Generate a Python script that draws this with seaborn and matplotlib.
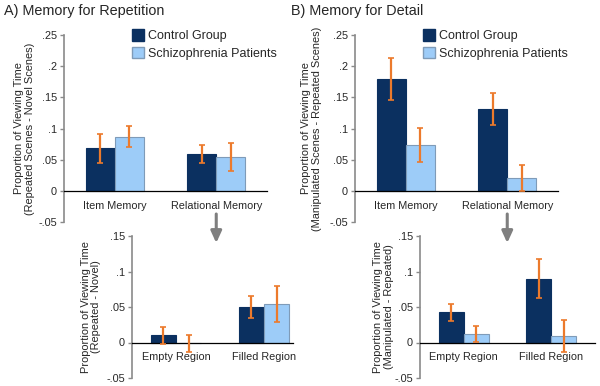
import pandas as pd
import matplotlib
matplotlib.use("Agg")
import matplotlib.pyplot as plt
import seaborn as sns
from matplotlib.patches import Patch

# ---- data ----
groups = ["Control Group", "Schizophrenia Patients"]

top_cats = ["Item Memory", "Relational Memory"]
bottom_cats = ["Empty Region", "Filled Region"]

# A) repetition (top) and its relational breakdown (bottom)
rep_ctrl = [0.068, 0.059]
rep_ctrl_se = [0.023, 0.0145]
rep_scz = [0.087, 0.054]
rep_scz_se = [0.017, 0.022]

rep_reg_ctrl = [0.010, 0.050]
rep_reg_ctrl_se = [0.0115, 0.0153]
rep_reg_scz = [-0.001, 0.054]
rep_reg_scz_se = [0.012, 0.0255]

# B) detail (top) and its relational breakdown (bottom)
det_ctrl = [0.180, 0.131]
det_ctrl_se = [0.0335, 0.026]
det_scz = [0.073, 0.020]
det_scz_se = [0.0275, 0.021]

det_reg_ctrl = [0.0425, 0.090]
det_reg_ctrl_se = [0.012, 0.0275]
det_reg_scz = [0.012, 0.009]
det_reg_scz_se = [0.011, 0.022]

top_ticks = [-0.05, 0, 0.05, 0.1, 0.15, 0.2, 0.25]
top_ticklabels = ["-.05", "0", ".05", ".1", ".15", ".2", ".25"]
bottom_ticks = [-0.05, 0, 0.05, 0.1, 0.15]
bottom_ticklabels = ["-.05", "0", ".05", ".1", ".15"]

# ---- style ----
sns.set_style("white")
plt.rcParams["font.family"] = ["Liberation Sans", "DejaVu Sans"]

navy = "#0b3060"
light = "#9dccf8"
orange = "#ec7a2c"
spine_gray = "#8a8a8a"

fig = plt.figure(figsize=(6, 3.86), dpi=100)
W, H = 600, 386


def add_ax(x0, x1, y0, y1):
    ax = fig.add_axes([x0 / W, 1 - y1 / H, (x1 - x0) / W, (y1 - y0) / H])
    ax.set_facecolor("none")
    return ax


def panel(ax, cats, ctrl, ctrl_se, scz, scz_se, ticks, ticklabels, ylab, xright, labx):
    df = pd.DataFrame({
        "cond": cats * 2,
        "group": [groups[0]] * 2 + [groups[1]] * 2,
        "value": ctrl + scz,
    })
    sns.barplot(data=df, x="cond", y="value", hue="group", order=cats,
                hue_order=groups, palette=[navy, light], width=0.57,
                errorbar=None, legend=False, ax=ax, saturation=1)
    for cont, se, ec in zip(ax.containers, [ctrl_se, scz_se], [navy, "#7f9bb8"]):
        xs, ys = [], []
        for bar in cont:
            bar.set_edgecolor(ec)
            bar.set_linewidth(0.8)
            xs.append(bar.get_x() + bar.get_width() / 2)
            ys.append(bar.get_height())
        ax.errorbar(xs, ys, yerr=se, fmt="none", ecolor=orange,
                    elinewidth=1.6, capsize=2, capthick=1.2, zorder=5)

    ax.set_ylim(ticks[0], ticks[-1])
    ax.set_xlim(-0.5, xright)
    ax.set_yticks(ticks)
    ax.set_yticklabels(ticklabels, fontsize=7.8)
    ax.set_xlabel("")
    ax.set_ylabel(ylab, fontsize=7.9, linespacing=1.05)
    ax.yaxis.set_label_coords(labx, 0.5)

    for s in ["top", "right"]:
        ax.spines[s].set_visible(False)
    ax.spines["left"].set_color(spine_gray)
    ax.spines["left"].set_linewidth(1.2)
    ax.spines["bottom"].set_position(("data", 0))
    ax.spines["bottom"].set_color("black")
    ax.spines["bottom"].set_linewidth(0.9)

    ax.set_xticks([0, 1])
    ax.set_xticklabels(cats, fontsize=7.8)
    ax.set_xticks([0.5, xright], minor=True)
    ax.tick_params(axis="x", which="major", length=0, pad=7)
    ax.tick_params(axis="x", which="minor", length=3, width=0.9,
                   direction="out", color="black")
    ax.tick_params(axis="y", length=3, width=1.0, direction="out",
                   color=spine_gray, pad=2, left=True)


ax_a = add_ax(64, 267, 35, 222)
ax_b = add_ax(355, 558, 35, 222)
ax_c = add_ax(132, 293, 236, 378)
ax_d = add_ax(420, 595, 236, 378)

panel(ax_a, top_cats, rep_ctrl, rep_ctrl_se, rep_scz, rep_scz_se,
      top_ticks, top_ticklabels,
      "Proportion of Viewing Time\n(Repeated Scenes - Novel Scenes)", 1.5, -0.145)
panel(ax_b, top_cats, det_ctrl, det_ctrl_se, det_scz, det_scz_se,
      top_ticks, top_ticklabels,
      "Proportion of Viewing Time\n(Manipulated Scenes - Repeated Scenes)", 1.5, -0.165)
panel(ax_c, bottom_cats, rep_reg_ctrl, rep_reg_ctrl_se, rep_reg_scz, rep_reg_scz_se,
      bottom_ticks, bottom_ticklabels,
      "Proportion of Viewing Time\n(Repeated - Novel)", 1.33, -0.19)
panel(ax_d, bottom_cats, det_reg_ctrl, det_reg_ctrl_se, det_reg_scz, det_reg_scz_se,
      bottom_ticks, bottom_ticklabels,
      "Proportion of Viewing Time\n(Manipulated - Repeated)", 1.5, -0.15)

# legends
handles = [Patch(facecolor=navy, edgecolor=navy),
           Patch(facecolor=light, edgecolor="#7f9bb8")]
for ax in (ax_a, ax_b):
    ax.legend(handles, groups, loc="upper left", bbox_to_anchor=(0.335, 1.03),
              frameon=False, fontsize=9, handlelength=0.95, handleheight=1.0,
              handletextpad=0.35, labelspacing=0.35, borderpad=0, borderaxespad=0)

# panel titles
fig.text(4 / W, 1 - 11 / H, "A) Memory for Repetition", fontsize=10.4, va="center")
fig.text(291 / W, 1 - 11 / H, "B) Memory for Detail", fontsize=10.4, va="center")

# arrows from relational memory to the breakdown panels
for ax in (ax_a, ax_b):
    arr = ax.annotate("", xy=(1, 1 - 243 / H), xytext=(1, 1 - 214 / H),
                      xycoords=("data", "figure fraction"),
                      textcoords=("data", "figure fraction"),
                      arrowprops=dict(arrowstyle="-|>,head_length=0.7,head_width=0.32",
                                      mutation_scale=10, color="#7f7f7f", lw=2.2,
                                      shrinkA=0, shrinkB=0),
                      annotation_clip=False)
    arr.set_zorder(20)

fig.savefig("out.png", dpi=100)
